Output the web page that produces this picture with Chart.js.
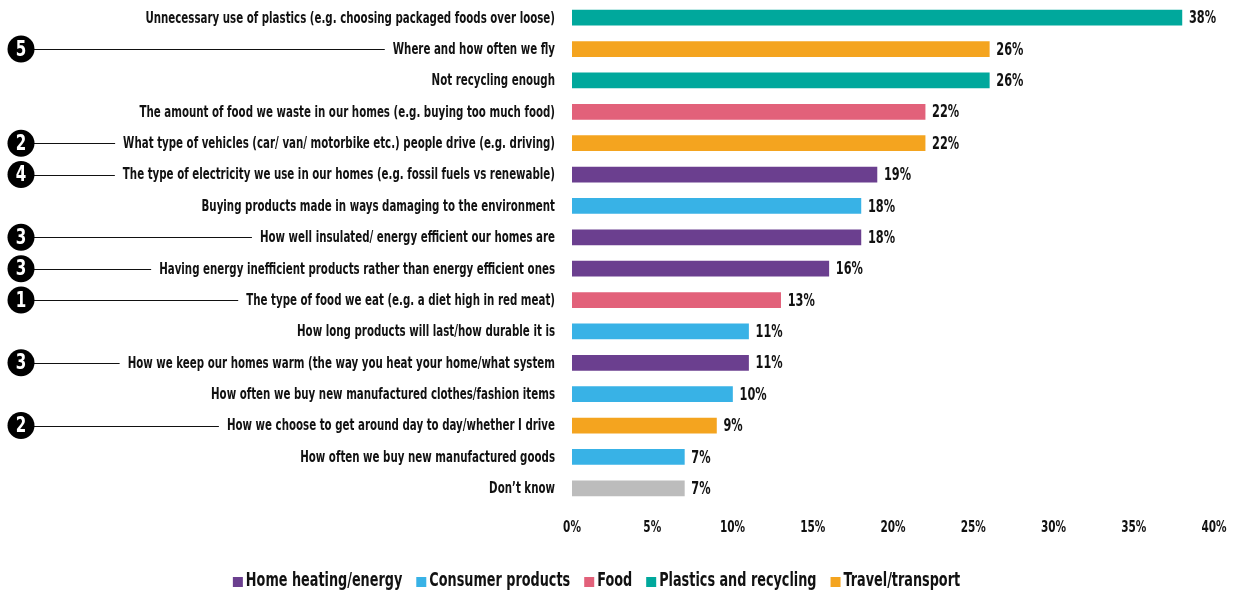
<!DOCTYPE html>
<html>
<head>
<meta charset="utf-8">
<script src="https://cdn.jsdelivr.net/npm/chart.js@4"></script>
<style>
  html, body { margin: 0; padding: 0; background: #fff; }
  #wrap { width: 1235px; height: 592px; position: relative; }
</style>
</head>
<body>
<div id="wrap"><canvas id="chart"></canvas></div>
<script>
const labels = [
    'Unnecessary use of plastics (e.g. choosing packaged foods over loose)',
    'Where and how often we fly',
    'Not recycling enough',
    'The amount of food we waste in our homes (e.g. buying too much food)',
    'What type of vehicles (car/ van/ motorbike etc.) people drive (e.g. driving)',
    'The type of electricity we use in our homes (e.g. fossil fuels vs renewable)',
    'Buying products made in ways damaging to the environment',
    'How well insulated/ energy efficient our homes are',
    'Having energy inefficient products rather than energy efficient ones',
    'The type of food we eat (e.g. a diet high in red meat)',
    'How long products will last/how durable it is',
    'How we keep our homes warm (the way you heat your home/what system',
    'How often we buy new manufactured clothes/fashion items',
    'How we choose to get around day to day/whether I drive',
    'How often we buy new manufactured goods',
    'Don\u2019t know'
];
const values = [38, 26, 26, 22, 22, 19, 18, 18, 16, 13, 11, 11, 10, 9, 7, 7];
const groups = ['plastics', 'travel', 'plastics', 'food', 'travel', 'home', 'consumer', 'home',
                'home', 'food', 'consumer', 'home', 'consumer', 'travel', 'consumer', 'none'];
const ranks = [null, 5, null, null, 2, 4, null, 3, 3, 1, null, 3, null, 2, null, null];
const xTicks = [0, 5, 10, 15, 20, 25, 30, 35, 40];

const legendKeys = ['home', 'consumer', 'food', 'plastics', 'travel'];
const legendNames = ['Home heating/energy', 'Consumer products', 'Food', 'Plastics and recycling', 'Travel/transport'];

const colours = {
    home: '#6b3f8f',
    consumer: '#38b2e6',
    food: '#e2617a',
    plastics: '#00a89c',
    travel: '#f4a41f',
    none: '#bcbcbc'
};

const FONT = '"DejaVu Sans Condensed", "DejaVu Sans", sans-serif';
const CHART_LEFT = 572;
const TICK_PAD = 17;
const INK = '#111';

// the type is a tall condensed face, so squeeze the text horizontally
function squeezed(c, text, x, y, size, sx, align) {
    c.save();
    c.font = 'bold ' + size + 'px ' + FONT;
    c.textBaseline = 'middle';
    c.textAlign = align;
    c.translate(x, y);
    c.scale(sx, 1);
    c.fillText(text, 0, 0);
    c.restore();
}
function squeezedWidth(c, text, size, sx) {
    c.save();
    c.font = 'bold ' + size + 'px ' + FONT;
    const w = c.measureText(text).width * sx;
    c.restore();
    return w;
}

const LABEL_SIZE = 15, LABEL_SX = 0.76;

// category labels, axis ticks, bar values, rank markers and key
const textLayer = {
    id: 'textLayer',
    afterDraw(chart) {
        const c = chart.ctx;
        const y = chart.scales.y;
        const x = chart.scales.x;
        const area = chart.chartArea;
        const labelRight = area.left - TICK_PAD;
        c.save();
        c.fillStyle = INK;

        labels.forEach((t, i) => {
            squeezed(c, t, labelRight, y.getPixelForTick(i) + 1, LABEL_SIZE, LABEL_SX, 'right');
        });

        xTicks.forEach(v => {
            squeezed(c, v + '%', x.getPixelForValue(v), area.bottom + 24, 16, 0.73, 'center');
        });

        chart.getDatasetMeta(0).data.forEach((bar, i) => {
            squeezed(c, values[i] + '%', bar.x + 7, bar.y + 1, 18, 0.7, 'left');
        });

        ranks.forEach((r, i) => {
            if (r === null) return;
            const py = y.getPixelForTick(i);
            const w = squeezedWidth(c, labels[i], LABEL_SIZE, LABEL_SX);
            c.strokeStyle = INK;
            c.lineWidth = 1;
            c.beginPath();
            c.moveTo(30, Math.round(py) + 0.5);
            c.lineTo(labelRight - w - 8, Math.round(py) + 0.5);
            c.stroke();
            c.fillStyle = '#000';
            c.beginPath();
            c.arc(21, py, 13.5, 0, Math.PI * 2);
            c.fill();
            c.fillStyle = '#fff';
            squeezed(c, String(r), 21, py + 1, 21, 0.8, 'center');
            c.fillStyle = INK;
        });

        // key along the bottom
        const keySize = 19, keySx = 0.75, box = 10, boxGap = 3, itemGap = 14;
        const widths = legendNames.map(n => box + boxGap + squeezedWidth(c, n, keySize, keySx));
        const total = widths.reduce((a, b) => a + b, 0) + itemGap * (widths.length - 1);
        let lx = chart.width / 2 - 21 - total / 2;
        const ly = 580;
        legendKeys.forEach((k, i) => {
            c.fillStyle = colours[k];
            c.fillRect(lx, ly - 3, box, box);
            c.fillStyle = INK;
            squeezed(c, legendNames[i], lx + box + boxGap, ly + 1, keySize, keySx, 'left');
            lx += widths[i] + itemGap;
        });
        c.restore();
    }
};

new Chart(document.getElementById('chart'), {
    type: 'bar',
    data: {
        labels: labels,
        datasets: [{
            data: values,
            backgroundColor: groups.map(g => colours[g]),
            barThickness: 15
        }]
    },
    options: {
        indexAxis: 'y',
        responsive: true,
        maintainAspectRatio: false,
        animation: false,
        layout: { padding: { top: 2, right: 21, bottom: 0, left: 0 } },
        scales: {
            x: {
                min: 0,
                max: 40,
                afterBuildTicks: scale => { scale.ticks = xTicks.map(v => ({ value: v })); },
                afterFit: scale => { scale.height = 88; },
                grid: { display: false, drawTicks: false },
                border: { display: false },
                ticks: { display: false }
            },
            y: {
                grid: { display: false, drawTicks: false },
                border: { display: false },
                afterFit: scale => { scale.width = CHART_LEFT; },
                ticks: { display: false }
            }
        },
        plugins: {
            tooltip: { enabled: false },
            legend: { display: false }
        }
    },
    plugins: [textLayer]
});
</script>
</body>
</html>
